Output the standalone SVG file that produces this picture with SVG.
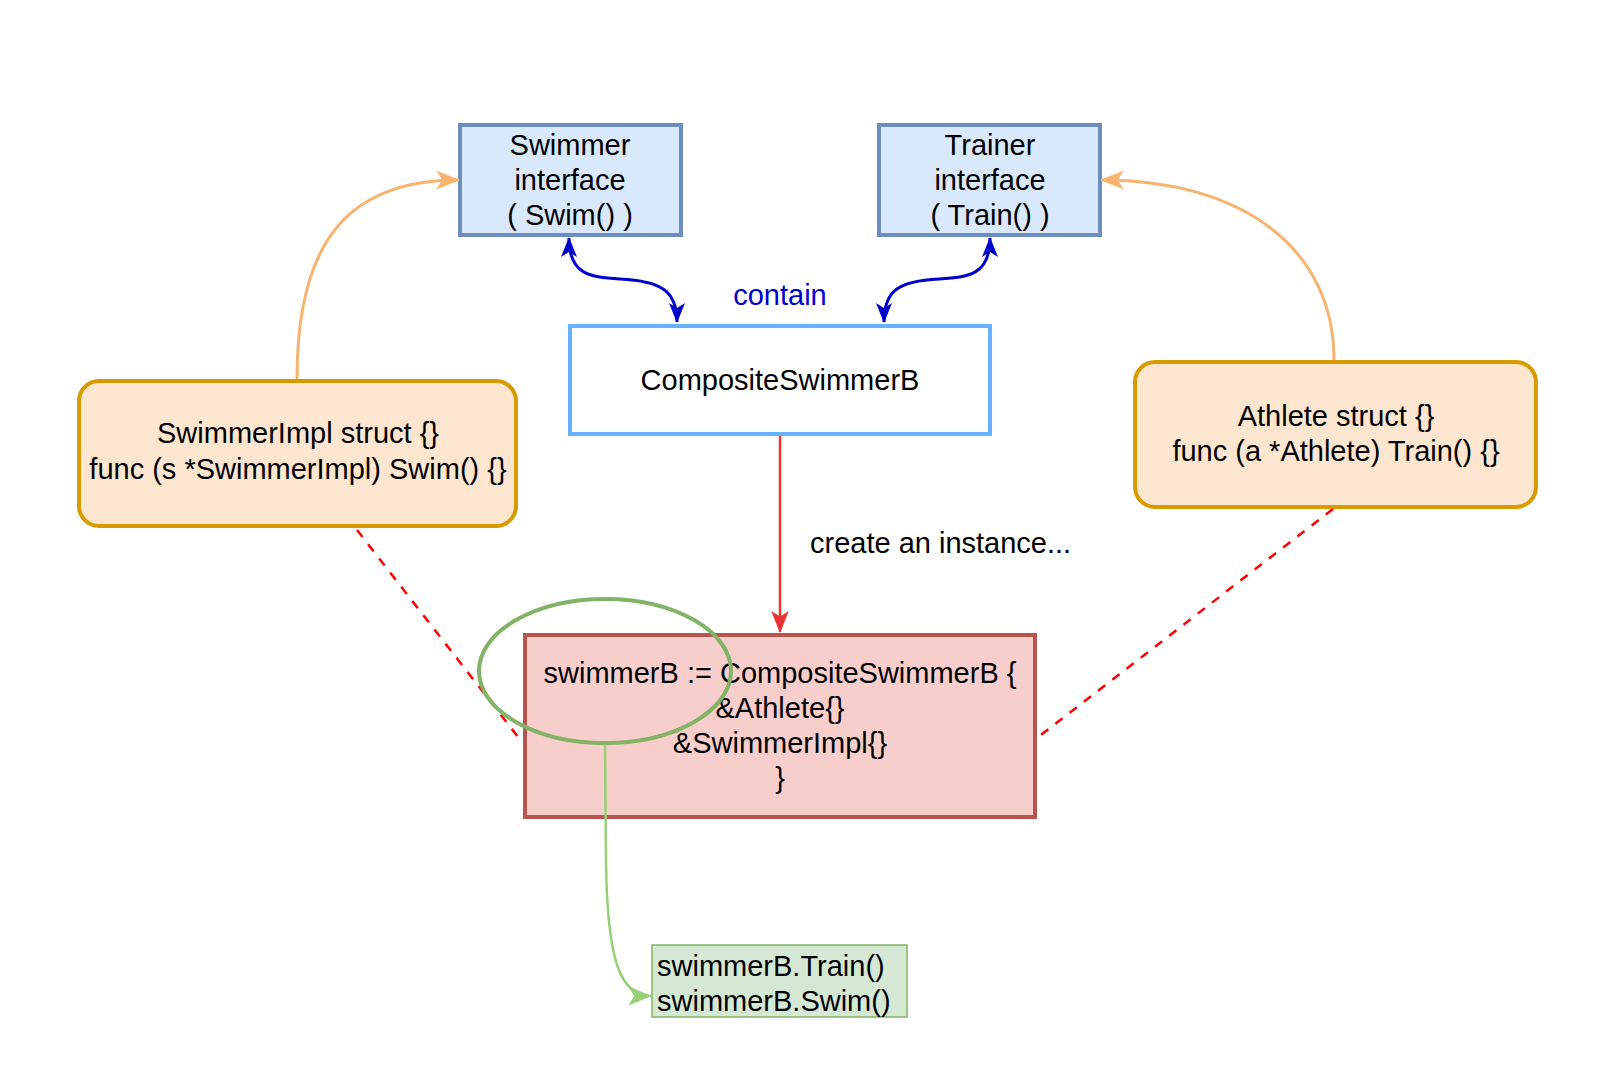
<svg xmlns="http://www.w3.org/2000/svg" width="1618" height="1074" viewBox="0 0 1618 1074">
<style>
text{font-family:"Liberation Sans",Arial,Helvetica,sans-serif;font-size:29px;fill:#000}
.c{text-anchor:middle}
.iface{fill:#dae8fc;stroke:#6c8ebf;stroke-width:4}
.impl{fill:#fce6d0;stroke:#d79b00;stroke-width:4}
.orange{fill:none;stroke:#f7b471;stroke-width:3}
.blue{fill:none;stroke:#0000cc;stroke-width:3}
.dash{fill:none;stroke:#ff0000;stroke-width:2.5;stroke-dasharray:9 9}
</style>
<defs>
<marker id="aO" viewBox="0 0 20 16" refX="19" refY="8" markerWidth="24" markerHeight="20" markerUnits="userSpaceOnUse" orient="auto"><path d="M0,0 L20,8 L0,16 L5,8 Z" fill="#f7b471"/></marker>
<marker id="aB" viewBox="0 0 20 16" refX="19" refY="8" markerWidth="20" markerHeight="16" markerUnits="userSpaceOnUse" orient="auto-start-reverse"><path d="M0,0 L20,8 L0,16 L5,8 Z" fill="#0000cc"/></marker>
<marker id="aR" viewBox="0 0 20 16" refX="19" refY="8" markerWidth="22" markerHeight="18" markerUnits="userSpaceOnUse" orient="auto"><path d="M0,0 L20,8 L0,16 L5,8 Z" fill="#ee3333"/></marker>
<marker id="aG" viewBox="0 0 20 16" refX="19" refY="8" markerWidth="24" markerHeight="20" markerUnits="userSpaceOnUse" orient="auto"><path d="M0,0 L20,8 L0,16 L5,8 Z" fill="#97d077"/></marker>
</defs>
<rect width="1618" height="1074" fill="#fff"/>
<g id="swimmer">
<rect class="iface" x="460" y="125" width="221" height="110"/>
<text x="570" y="155" class="c">Swimmer</text>
<text x="570" y="190" class="c">interface</text>
<text x="570" y="225" class="c">( Swim() )</text>
</g>
<g id="trainer">
<rect class="iface" x="879" y="125" width="221" height="110"/>
<text x="990" y="155" class="c">Trainer</text>
<text x="990" y="190" class="c">interface</text>
<text x="990" y="225" class="c">( Train() )</text>
</g>
<g id="composite">
<rect x="570" y="326" width="420" height="108" fill="#fff" stroke="#66b2ff" stroke-width="4"/>
<text x="780" y="390" class="c">CompositeSwimmerB</text>
</g>
<g id="swimmerImpl">
<rect class="impl" x="79" y="381" width="437" height="145" rx="20"/>
<text x="298" y="443" class="c">SwimmerImpl struct {}</text>
<text x="298" y="479" class="c">func (s *SwimmerImpl) Swim() {}</text>
</g>
<g id="athlete">
<rect class="impl" x="1135" y="362" width="401" height="145" rx="20"/>
<text x="1336" y="426" class="c">Athlete struct {}</text>
<text x="1336" y="461" class="c">func (a *Athlete) Train() {}</text>
</g>
<g id="instance">
<rect x="525" y="635" width="510" height="182" fill="#f8cecc" stroke="#b85450" stroke-width="4"/>
<text x="780" y="683" class="c">swimmerB := CompositeSwimmerB {</text>
<text x="780" y="718" class="c">&amp;Athlete{}</text>
<text x="780" y="753" class="c">&amp;SwimmerImpl{}</text>
<text x="780" y="788" class="c">}</text>
</g>
<g id="calls">
<rect x="652" y="945" width="255" height="72" fill="#d5e8d4" stroke="#82b366" stroke-width="1.5"/>
<text x="657" y="976">swimmerB.Train()</text>
<text x="657" y="1011">swimmerB.Swim()</text>
</g>
<g id="connectors">
<path class="orange" d="M297,379 C297,245 345,180 459,180" marker-end="url(#aO)"/>
<path class="orange" d="M1334,360 C1334,250 1245,180 1101,180" marker-end="url(#aO)"/>
<path class="blue" d="M569,238 C569,275 590,277 620,279 C660,281 677,290 677,322" marker-start="url(#aB)" marker-end="url(#aB)"/>
<path class="blue" d="M990,238 C990,275 969,277 939,279 C899,281 884,290 884,322" marker-start="url(#aB)" marker-end="url(#aB)"/>
<text x="780" y="305" class="c" style="fill:#0000cc">contain</text>
<path d="M780,436 L780,632" fill="none" stroke="#ee3333" stroke-width="2.5" marker-end="url(#aR)"/>
<text x="810" y="553">create an instance...</text>
<path class="dash" d="M357,530 L522,742"/>
<path class="dash" d="M1333,509 L1037,738"/>
<path d="M605,743 L606,860 C607,960 620,996 651,996" fill="none" stroke="#97d077" stroke-width="2.5" marker-end="url(#aG)"/>
</g>
<g id="highlight">
<ellipse cx="605" cy="671" rx="126" ry="72" fill="none" stroke="#82b366" stroke-width="4"/>
</g>
</svg>
